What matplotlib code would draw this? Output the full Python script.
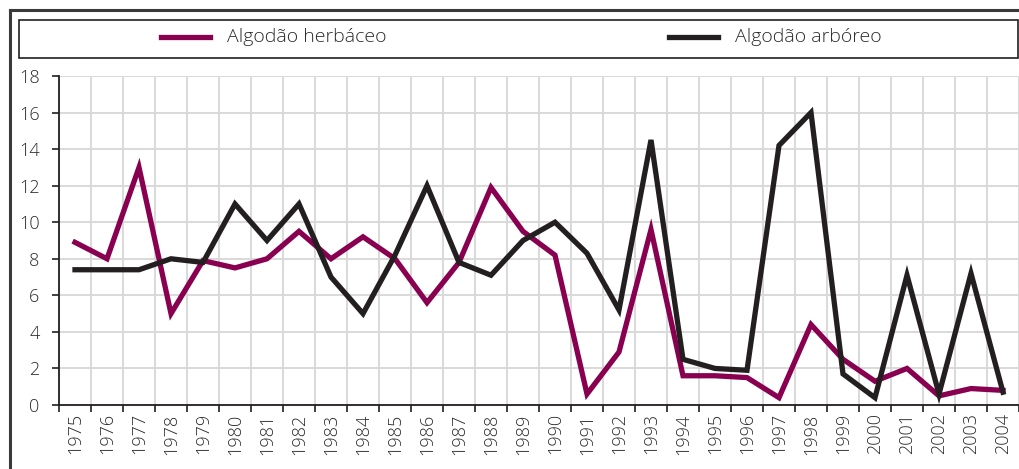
import matplotlib.pyplot as plt
from matplotlib.lines import Line2D
from matplotlib.patches import Rectangle
import numpy as np

plt.rcParams['font.family'] = ['Open Sans', 'DejaVu Sans']
plt.rcParams['font.weight'] = 'light'

years = [str(y) for y in range(1975, 2005)]
herbaceo = [8.9, 8.0, 13.0, 5.0, 7.9, 7.5, 8.0, 9.5, 8.0, 9.2,
            8.0, 5.6, 7.8, 11.9, 9.5, 8.2, 0.6, 2.9, 9.6, 1.6,
            1.6, 1.5, 0.4, 4.4, 2.5, 1.3, 2.0, 0.5, 0.9, 0.8]
arboreo = [7.4, 7.4, 7.4, 8.0, 7.8, 11.0, 9.0, 11.0, 7.0, 5.0,
           8.2, 12.0, 7.8, 7.1, 9.0, 10.0, 8.3, 5.2, 14.5, 2.5,
           2.0, 1.9, 14.2, 16.0, 1.7, 0.4, 7.1, 0.6, 7.2, 0.7]
series_names = ['Algodão herbáceo', 'Algodão arbóreo']
colors = ['#8a0050', '#231f20']
yticks = [0, 2, 4, 6, 8, 10, 12, 14, 16, 18]

fig = plt.figure(figsize=(10.2, 4.69), dpi=100)
ax = fig.add_axes([59 / 1020, 1 - 405 / 469, 960 / 1020, 329 / 469])

x = np.arange(len(years))
ax.plot(x, herbaceo, color=colors[0], lw=3.8, solid_joinstyle='miter', zorder=3)
ax.plot(x, arboreo, color=colors[1], lw=3.8, solid_joinstyle='miter', zorder=4)

ax.set_xlim(-0.5, len(years) - 0.5)
ax.set_ylim(0, 18)
ax.set_yticks(yticks)
ax.set_yticklabels([str(v) for v in yticks], fontsize=13, color='#2b2b2b')

# category boundaries as major ticks, labels at category centres
ax.set_xticks(np.arange(-0.5, len(years), 1))
ax.set_xticklabels([])
ax.set_xticks(x, minor=True)
ax.set_xticklabels(years, minor=True, rotation=90, fontsize=13, color='#2b2b2b')
ax.tick_params(axis='x', which='major', length=5, width=1.2, color='#231f20')
ax.tick_params(axis='x', which='minor', length=0, pad=6)
ax.tick_params(axis='y', length=5, width=1.2, color='#231f20', pad=9)

ax.grid(True, which='major', color='#d9d9d9', lw=1.4, zorder=0)
ax.set_axisbelow(True)
for s in ['top', 'right']:
    ax.spines[s].set_visible(False)
for s in ['left', 'bottom']:
    ax.spines[s].set_color('#231f20')
    ax.spines[s].set_linewidth(1.3)

# outer frame (top and left edges visible)
fig.add_artist(Line2D([10 / 1020, 10 / 1020], [0, 1 - 10 / 469], color='#3a3a3a', lw=2.2))
fig.add_artist(Line2D([10 / 1020, 1], [1 - 10 / 469, 1 - 10 / 469], color='#3a3a3a', lw=2.2))

# legend box
fig.add_artist(Rectangle((19 / 1020, 1 - 58 / 469), 999 / 1020, 38 / 469,
                         transform=fig.transFigure, fill=False, ec='#231f20', lw=1.2))
leg_y = 1 - 37 / 469
for name, c, x0 in zip(series_names, colors, [161, 669]):
    fig.add_artist(Line2D([x0 / 1020, (x0 + 49) / 1020], [leg_y, leg_y], color=c, lw=3.8))
    fig.text((x0 + 66) / 1020, leg_y, name, fontsize=14, color='#2b2b2b', va='center', ha='left')

fig.savefig('out.png', dpi=100)
